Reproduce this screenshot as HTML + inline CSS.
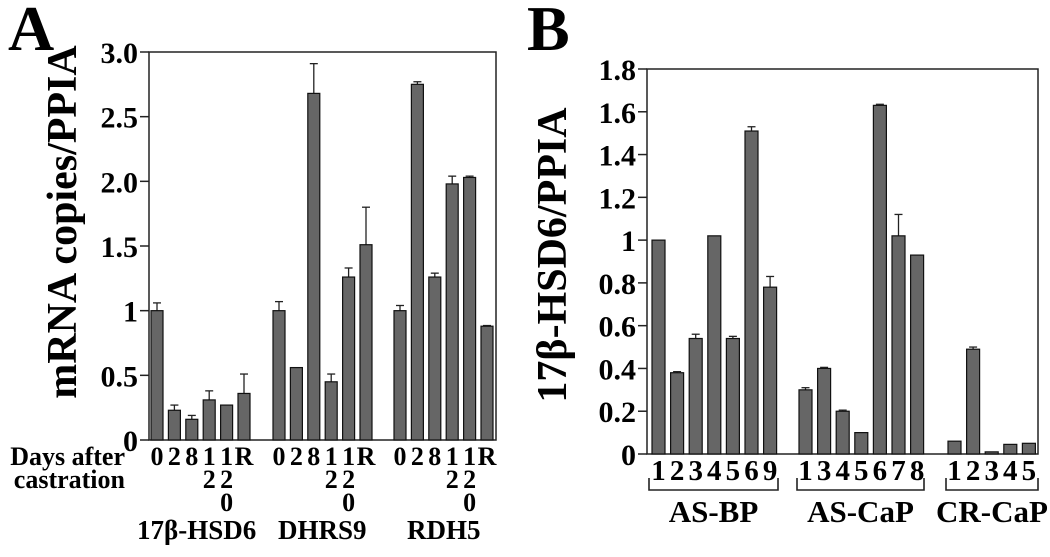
<!DOCTYPE html>
<html><head><meta charset="utf-8"><style>
html,body{margin:0;padding:0;background:#fff;}
svg{display:block;}
svg text{font-family:"Liberation Serif","Times New Roman",serif;font-weight:bold;}
</style></head><body>
<svg id="chart" width="1050" height="557" viewBox="0 0 1050 557"></svg>
<script>
// Panel A data
const aGroups = ["17β-HSD6","DHRS9","RDH5"];
const aDays = ["0","2","8","12","120","R"];
const aValues = [[1.0,0.23,0.16,0.31,0.27,0.36],[1.0,0.56,2.68,0.45,1.26,1.51],[1.0,2.75,1.26,1.98,2.03,0.88]];
const aErrors = [[0.06,0.04,0.03,0.07,0,0.15],[0.07,0,0.23,0.06,0.07,0.29],[0.04,0.02,0.03,0.06,0.01,0.005]];
const aTicks = [0,0.5,1,1.5,2.0,2.5,3.0];
const aTickLabels = ["0","0.5","1","1.5","2.0","2.5","3.0"];
// Panel B data
const bGroups = ["AS-BP","AS-CaP","CR-CaP"];
const bCats = [["1","2","3","4","5","6","9"],["1","3","4","5","6","7","8"],["1","2","3","4","5"]];
const bValues = [[1.0,0.38,0.54,1.02,0.54,1.51,0.78],[0.30,0.40,0.20,0.10,1.63,1.02,0.93],[0.06,0.49,0.01,0.045,0.05]];
const bErrors = [[0,0.005,0.02,0,0.01,0.02,0.05],[0.01,0.005,0.005,0,0.005,0.1,0],[0,0.01,0,0,0]];
const bTicks = [0,0.2,0.4,0.6,0.8,1,1.2,1.4,1.6,1.8];
const bTickLabels = ["0","0.2","0.4","0.6","0.8","1","1.2","1.4","1.6","1.8"];

const NS="http://www.w3.org/2000/svg";
const svg=document.getElementById('chart');
function mk(tag,attrs,parent,text){const e=document.createElementNS(NS,tag);for(const k in attrs)e.setAttribute(k,attrs[k]);if(text!==undefined)e.textContent=text;(parent||svg).appendChild(e);return e;}

function panel(o){
  const g=mk('g',{});
  
  
  const y=v=>o.bottom-(v/o.max)*(o.bottom-o.top);
  const box=mk('rect',{x:o.left,y:o.top,width:o.right-o.left,height:o.bottom-o.top,fill:'none',stroke:'#222','stroke-width':1.5},g);
  
  
  o.ticks.forEach((t,i)=>{
    mk('line',{x1:o.left-9,x2:o.left,y1:y(t),y2:y(t),stroke:'#222','stroke-width':1.5},g);
    const tl=mk('text',{x:o.left-11,y:y(t)+11,'text-anchor':'end','font-size':o.tickFs},g,o.tickLabels[i]);
    
    
  });
  o.values.forEach((arr,gi)=>{
    arr.forEach((v,bi)=>{
      const x=o.starts[gi]+bi*o.step;
      const e=o.errors[gi][bi];
      if(e>0){
        mk('line',{x1:x+o.bw/2,x2:x+o.bw/2,y1:y(v),y2:y(v+e),stroke:'#222','stroke-width':1.3},g);
        mk('line',{x1:x+o.bw/2-4,x2:x+o.bw/2+4,y1:y(v+e),y2:y(v+e),stroke:'#222','stroke-width':1.3},g);
      }
      const r=mk('rect',{x:x,y:y(v),width:o.bw,height:o.bottom-y(v),fill:'#666',stroke:'#111','stroke-width':1.2},g);
      
      
    });
  });
  return {g,y};
}

// Panel A
const aStarts=[151,273,394];
const A=panel({name:'panel-a',left:149,right:496,top:52,bottom:440,max:3,ticks:aTicks,tickLabels:aTickLabels,tickFs:30,
  values:aValues,errors:aErrors,starts:aStarts,step:17.4,bw:12});
aGroups.forEach((gname,gi)=>{
  aDays.forEach((d,bi)=>{
    const cx=aStarts[gi]+bi*17.4+6;
    for(let k=0;k<d.length;k++){
      const t=mk('text',{x:cx,y:465+k*23,'text-anchor':'middle','font-size':26},A.g,d[k]);
      
      
    }
  });
});
[["17β-HSD6",137],["DHRS9",278],["RDH5",407]].forEach(([n,x],i)=>{
  const t=mk('text',{x:x,y:539,'font-size':27},A.g,aGroups[i]);
  
  
});
let t;
t=mk('text',{x:125,y:465,'text-anchor':'end','font-size':26},A.g,'Days after');

t=mk('text',{x:125,y:488,'text-anchor':'end','font-size':26},A.g,'castration');

t=mk('text',{x:0,y:0,'text-anchor':'middle','font-size':42,transform:'translate(76,222) rotate(-90)'},A.g,'mRNA copies/PPIA');

t=mk('text',{x:8,y:50,'font-size':64},A.g,'A');


// Panel B
const bStarts=[652,799,948];
const B=panel({name:'panel-b',left:647,right:1038,top:69,bottom:454,max:1.8,ticks:bTicks,tickLabels:bTickLabels,tickFs:30,
  values:bValues,errors:bErrors,starts:bStarts,step:18.6,bw:13});
bCats.forEach((cats,gi)=>{
  cats.forEach((c,bi)=>{
    const tt=mk('text',{x:bStarts[gi]+bi*18.6+6.5,y:480,'text-anchor':'middle','font-size':29},B.g,c);
    
    
  });
});
[[649,778],[797,924],[946,1038]].forEach(([x1,x2],i)=>{
  const p=mk('path',{d:`M${x1} 478 V490 H${x2} V478`,fill:'none',stroke:'#222','stroke-width':1.6},B.g);
  
  
  const tt=mk('text',{x:(x1+x2)/2,y:522,'text-anchor':'middle','font-size':31},B.g,bGroups[i]);
  
  
});
t=mk('text',{x:0,y:0,'text-anchor':'middle','font-size':42,transform:'translate(566,255) rotate(-90)'},B.g,'17β-HSD6/PPIA');

t=mk('text',{x:527,y:50,'font-size':64},B.g,'B');

</script>
</body></html>
